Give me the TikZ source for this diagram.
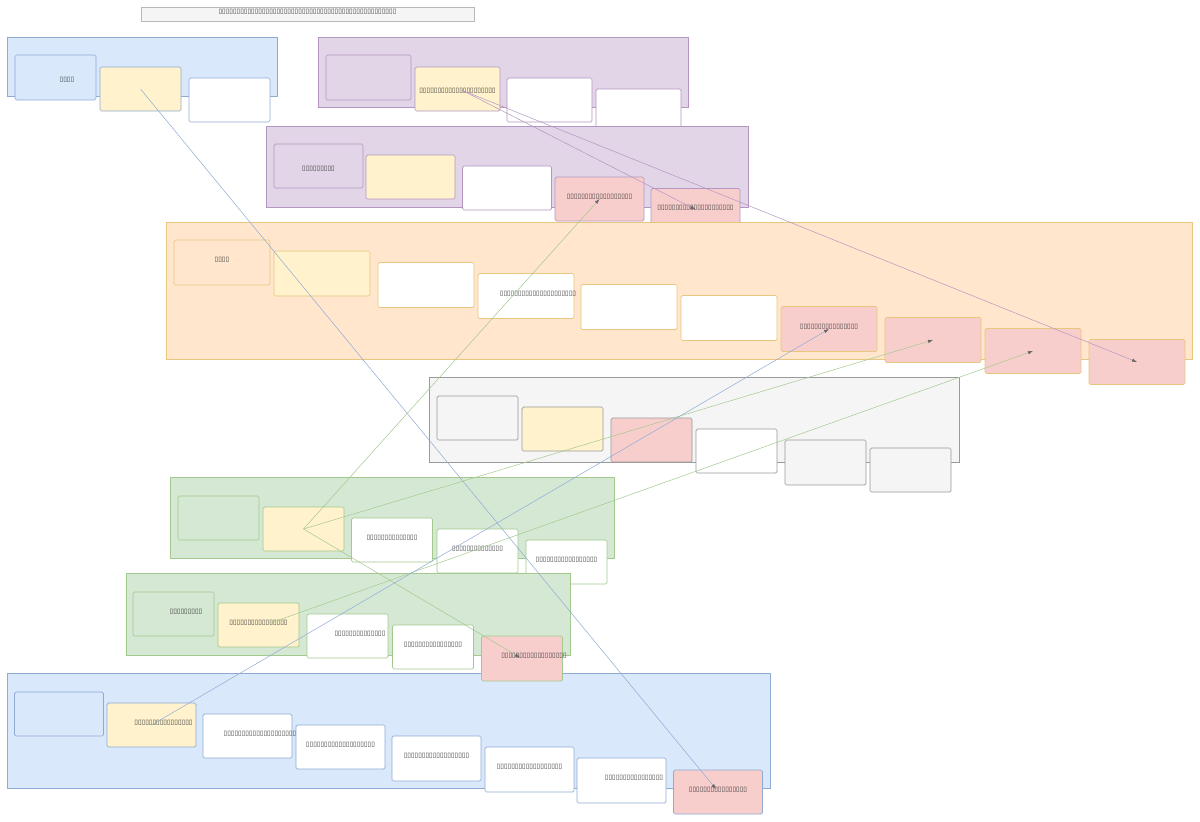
\documentclass[tikz,border=0pt]{standalone}
\usepackage{fontspec}
\usetikzlibrary{arrows.meta}
\newfontfamily\tofufont{DejaVu Sans}

\definecolor{bluefill}{HTML}{DAE8FC}
\definecolor{bluedraw}{HTML}{8FABD4}
\definecolor{purplefill}{HTML}{E1D5E7}
\definecolor{purpledraw}{HTML}{B496C2}
\definecolor{orangefill}{HTML}{FFE6CC}
\definecolor{orangedraw}{HTML}{E8C67E}
\definecolor{grayfill}{HTML}{F5F5F5}
\definecolor{graydraw}{HTML}{9A9A9A}
\definecolor{greenfill}{HTML}{D5E8D4}
\definecolor{greendraw}{HTML}{A3C98E}
\definecolor{yellowfill}{HTML}{FFF2CC}
\definecolor{pinkfill}{HTML}{F8CECC}

\tikzset{
  grp/.style={line width=0.7pt},
  cell/.style={draw, rounded corners=1.5pt, line width=0.7pt, inner sep=0pt},
  wA/.style={cell, minimum width=81pt, minimum height=44pt},
  wB/.style={cell, minimum width=85pt, minimum height=44pt},
  wC/.style={cell, minimum width=89pt, minimum height=44pt},
  wD/.style={cell, minimum width=96pt, minimum height=45pt},
  txt/.style={font=\tofufont\fontsize{6.6}{7}\selectfont, text=black!80, yshift=2.5pt},
  wire/.style={line width=0.5pt, -{Latex[length=5pt,width=3.5pt,color=black!60]}}
}

\begin{document}
\begin{tikzpicture}[x=1pt, y=-1pt]
\useasboundingbox[fill=white] (0,0) rectangle (1200,822);

% title
\node[cell, fill=grayfill, draw=graydraw!70, rounded corners=0pt, minimum width=333pt, minimum height=14pt]
  (title) at (307.5,14) [label={[txt,yshift=-0.5pt]center:▯▯▯▯▯▯▯▯▯▯▯▯▯▯▯▯▯▯▯▯▯▯▯▯▯▯▯▯▯▯▯▯▯▯▯▯▯▯▯▯▯▯▯▯▯▯▯▯▯}] {};

% group 1
\draw[grp, fill=bluefill, draw=bluedraw] (7,37) rectangle (277,96);
\node[wA, fill=bluefill, draw=bluedraw, minimum height=45pt] (n1) at (55.5,77.5) [label={[txt,xshift=11.5pt,yshift=-5pt]center:▯▯▯▯}] {};
\node[wA, fill=yellowfill, draw=bluedraw] (n2) at (140.5,89) {};
\node[wA, fill=white, draw=bluedraw] (n3) at (229.5,100) {};

% group 2
\draw[grp, fill=purplefill, draw=purpledraw] (318,37) rectangle (688,107);
\node[wB, fill=purplefill, draw=purpledraw, minimum height=45pt] (a1) at (368.5,77.5) {};
\node[wB, fill=yellowfill, draw=purpledraw] (a2) at (457.5,89) [label={[txt,yshift=-4.5pt]center:▯▯▯▯▯▯▯▯▯▯▯▯▯▯▯▯▯▯▯▯▯}] {};
\node[wB, fill=white, draw=purpledraw] (a3) at (549.5,100) {};
\node[wB, fill=white, draw=purpledraw] (a4) at (638.5,111) {};

% group 3
\draw[grp, fill=purplefill, draw=purpledraw] (266,126) rectangle (748,207);
\node[wC, fill=purplefill, draw=purpledraw] (b1) at (318.5,166) [label={[txt,yshift=-5.5pt]center:▯▯▯▯▯▯▯▯▯}] {};
\node[wC, fill=yellowfill, draw=purpledraw] (b2) at (410.5,177) {};
\node[wC, fill=white, draw=purpledraw] (b3) at (507,188) {};
\node[wC, fill=pinkfill, draw=purpledraw] (b4) at (599.5,199) [label={[txt]center:▯▯▯▯▯▯▯▯▯▯▯▯▯▯▯▯▯▯}] {};
\node[wC, fill=pinkfill, draw=purpledraw] (b5) at (695.5,210.5) [label={[txt]center:▯▯▯▯▯▯▯▯▯▯▯▯▯▯▯▯▯▯▯▯▯}] {};

% group 4
\draw[grp, fill=orangefill, draw=orangedraw] (166,222) rectangle (1192,359);
\node[wD, fill=orangefill, draw=orangedraw] (c1) at (222,262.5) [label={[txt]center:▯▯▯▯}] {};
\node[wD, fill=yellowfill, draw=orangedraw] (c2) at (322,273.5) {};
\node[wD, fill=white, draw=orangedraw] (c3) at (426,285) {};
\node[wD, fill=white, draw=orangedraw] (c4) at (526,296) [label={[txt,xshift=12pt]center:▯▯▯▯▯▯▯▯▯▯▯▯▯▯▯▯▯▯▯▯▯}] {};
\node[wD, fill=white, draw=orangedraw] (c5) at (629,307) {};
\node[wD, fill=white, draw=orangedraw] (c6) at (729,318) {};
\node[wD, fill=pinkfill, draw=orangedraw] (c7) at (829,329) [label={[txt]center:▯▯▯▯▯▯▯▯▯▯▯▯▯▯▯▯}] {};
\node[wD, fill=pinkfill, draw=orangedraw] (c8) at (933,340) {};
\node[wD, fill=pinkfill, draw=orangedraw] (c9) at (1033,351) {};
\node[wD, fill=pinkfill, draw=orangedraw] (c10) at (1137,362) {};

% group 5
\draw[grp, fill=grayfill, draw=graydraw] (429,377) rectangle (959,462);
\node[wA, fill=grayfill, draw=graydraw] (d1) at (477.5,418) {};
\node[wA, fill=yellowfill, draw=graydraw] (d2) at (562.5,429) {};
\node[wA, fill=pinkfill, draw=graydraw] (d3) at (651.5,440) {};
\node[wA, fill=white, draw=graydraw] (d4) at (736.5,451) {};
\node[wA, fill=grayfill, draw=graydraw, minimum height=45pt] (d5) at (825.5,462.5) {};
\node[wA, fill=grayfill, draw=graydraw] (d6) at (910.5,470) {};

% group 6
\draw[grp, fill=greenfill, draw=greendraw] (170,477) rectangle (614,558);
\node[wA, fill=greenfill, draw=greendraw] (e1) at (218.5,518) {};
\node[wA, fill=yellowfill, draw=greendraw] (e2) at (303.5,529) {};
\node[wA, fill=white, draw=greendraw] (e3) at (392,540) [label={[txt]center:▯▯▯▯▯▯▯▯▯▯▯▯▯▯}] {};
\node[wA, fill=white, draw=greendraw] (e4) at (477.5,551) [label={[txt]center:▯▯▯▯▯▯▯▯▯▯▯▯▯▯}] {};
\node[wA, fill=white, draw=greendraw] (e5) at (566.5,562) [label={[txt]center:▯▯▯▯▯▯▯▯▯▯▯▯▯▯▯▯▯}] {};

% group 8 (back)
\draw[grp, fill=bluefill, draw=bluedraw] (7,673) rectangle (770,788);

% group 7
\draw[grp, fill=greenfill, draw=greendraw] (126,573) rectangle (570,655);
\node[wA, fill=greenfill, draw=greendraw] (f1) at (173.5,614) [label={[txt,xshift=12.5pt]center:▯▯▯▯▯▯▯▯▯}] {};
\node[wA, fill=yellowfill, draw=greendraw] (f2) at (258.5,625) [label={[txt]center:▯▯▯▯▯▯▯▯▯▯▯▯▯▯▯▯}] {};
\node[wA, fill=white, draw=greendraw] (f3) at (347.5,636) [label={[txt,xshift=12.5pt]center:▯▯▯▯▯▯▯▯▯▯▯▯▯▯}] {};
\node[wA, fill=white, draw=greendraw] (f4) at (433,647) [label={[txt]center:▯▯▯▯▯▯▯▯▯▯▯▯▯▯▯▯}] {};
\node[wA, fill=pinkfill, draw=greendraw, minimum height=45pt] (f5) at (522,658.5) [label={[txt,xshift=12pt]center:▯▯▯▯▯▯▯▯▯▯▯▯▯▯▯▯▯▯}] {};

% group 8
\node[wC, fill=bluefill, draw=bluedraw] (g1) at (59,714) {};
\node[wC, fill=yellowfill, draw=bluedraw] (g2) at (151.5,725) [label={[txt,xshift=12pt]center:▯▯▯▯▯▯▯▯▯▯▯▯▯▯▯▯}] {};
\node[wC, fill=white, draw=bluedraw] (g3) at (247.5,736) [label={[txt,xshift=12.5pt]center:▯▯▯▯▯▯▯▯▯▯▯▯▯▯▯▯▯▯▯▯}] {};
\node[wC, fill=white, draw=bluedraw] (g4) at (340.5,747) [label={[txt]center:▯▯▯▯▯▯▯▯▯▯▯▯▯▯▯▯▯▯▯}] {};
\node[wC, fill=white, draw=bluedraw, minimum height=45pt] (g5) at (436.5,758.5) [label={[txt]center:▯▯▯▯▯▯▯▯▯▯▯▯▯▯▯▯▯▯}] {};
\node[wC, fill=white, draw=bluedraw, minimum height=45pt] (g6) at (529.5,769.5) [label={[txt]center:▯▯▯▯▯▯▯▯▯▯▯▯▯▯▯▯▯▯}] {};
\node[wC, fill=white, draw=bluedraw, minimum height=45pt] (g7) at (621.5,780.5) [label={[txt,xshift=12.5pt]center:▯▯▯▯▯▯▯▯▯▯▯▯▯▯▯▯}] {};
\node[wC, fill=pinkfill, draw=bluedraw] (g8) at (718,792) [label={[txt]center:▯▯▯▯▯▯▯▯▯▯▯▯▯▯▯▯}] {};

% links
\draw[wire, draw=bluedraw] (n2.center) -- ([shift={(-2,-3)}]g8.center);
\draw[wire, draw=purpledraw] ([shift={(4,1)}]a2.center) -- ([shift={(0,-1)}]b5.center);
\draw[wire, draw=purpledraw] ([shift={(4,1)}]a2.center) -- (c10.center);
\draw[wire, draw=greendraw] (e2.center) -- (b4.center);
\draw[wire, draw=greendraw] (e2.center) -- (c8.center);
\draw[wire, draw=greendraw] (e2.center) -- ([shift={(-2,-1)}]f5.center);
\draw[wire, draw=greendraw] ([shift={(12,-2)}]f2.center) -- (c9.center);
\draw[wire, draw=bluedraw] (g2.center) -- (c7.center);
\end{tikzpicture}
\end{document}
